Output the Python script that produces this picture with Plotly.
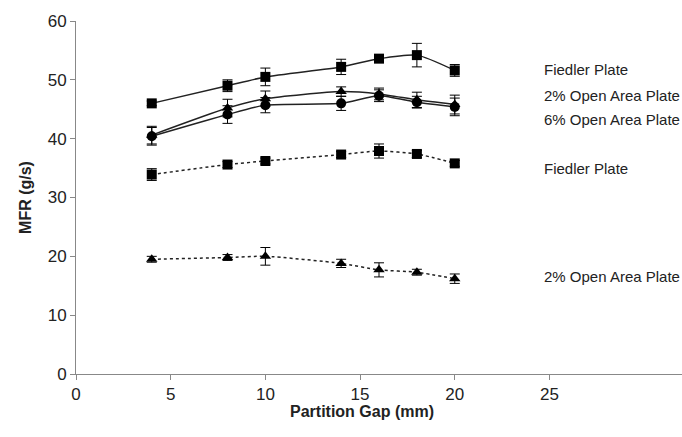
import plotly.graph_objects as go

gap = [4, 8, 10, 14, 16, 18, 20]

fiedler_solid = [46.0, 49.0, 50.5, 52.2, 53.6, 54.2, 51.6]
fiedler_solid_err = [0.4, 1.0, 1.5, 1.3, 0.6, 2.0, 1.0]

open2_solid = [40.6, 45.2, 46.8, 48.0, 47.6, 46.6, 45.8]
open2_solid_err = [1.5, 1.5, 1.3, 0.8, 1.0, 1.3, 1.6]

open6_solid = [40.4, 44.1, 45.7, 46.0, 47.3, 46.2, 45.4]
open6_solid_err = [1.5, 1.5, 1.3, 1.2, 1.0, 1.0, 1.5]

fiedler_dot = [33.9, 35.6, 36.2, 37.3, 37.9, 37.4, 35.8]
fiedler_dot_err = [1.0, 0.5, 0.5, 0.5, 1.2, 0.6, 0.5]

open2_dot = [19.5, 19.8, 20.0, 18.8, 17.7, 17.3, 16.2]
open2_dot_err = [0.5, 0.5, 1.5, 0.7, 1.2, 0.5, 0.8]

labels = ["Fiedler Plate", "2% Open Area Plate", "6% Open Area Plate",
          "Fiedler Plate", "2% Open Area Plate"]
label_y = [51.7, 47.4, 43.2, 35.0, 16.5]

series = [
    (fiedler_solid, fiedler_solid_err, "square", "solid"),
    (open2_solid, open2_solid_err, "triangle-up", "solid"),
    (open6_solid, open6_solid_err, "circle", "solid"),
    (fiedler_dot, fiedler_dot_err, "square", "dot"),
    (open2_dot, open2_dot_err, "triangle-up", "dot"),
]

fig = go.Figure()
for vals, err, sym, dash in series:
    fig.add_trace(go.Scatter(
        x=gap, y=vals, mode="lines+markers",
        line=dict(color="#222222", width=1.5, dash=dash, shape="spline", smoothing=0.6),
        marker=dict(symbol=sym, size=10, color="black"),
        error_y=dict(type="data", array=err, visible=True, color="black",
                     thickness=1, width=5),
        showlegend=False,
    ))

for txt, yv in zip(labels, label_y):
    fig.add_annotation(x=24.6, y=yv, xref="x", yref="y", text=txt,
                       showarrow=False, xanchor="left", yanchor="middle",
                       font=dict(family="Liberation Sans, Arial", size=15, color="#222"))

fig.add_annotation(x=15.1, y=-0.105, xref="x", yref="paper",
                   text="<b>Partition Gap (mm)</b>", showarrow=False,
                   xanchor="center", yanchor="middle",
                   font=dict(family="Liberation Sans, Arial", size=16, color="#222"))

fig.update_layout(
    width=682, height=437,
    margin=dict(l=76, r=0, t=21, b=63),
    plot_bgcolor="white", paper_bgcolor="white",
    font=dict(family="Liberation Sans, Arial", color="#222"),
)
fig.update_xaxes(
    range=[0, 32], tickvals=[0, 5, 10, 15, 20, 25],
    showgrid=False, zeroline=False, showline=True, linecolor="#888", linewidth=1,
    ticks="outside", ticklen=5, tickcolor="#888",
    tickfont=dict(size=17),
)
fig.update_yaxes(
    range=[0, 60], tickvals=[0, 10, 20, 30, 40, 50, 60],
    showgrid=False, zeroline=False, showline=True, linecolor="#888", linewidth=1,
    ticks="outside", ticklen=5, tickcolor="#888",
    tickfont=dict(size=17),
    title=dict(text="<b>MFR (g/s)</b>", font=dict(size=16), standoff=12),
)

fig.write_html("out.html")
